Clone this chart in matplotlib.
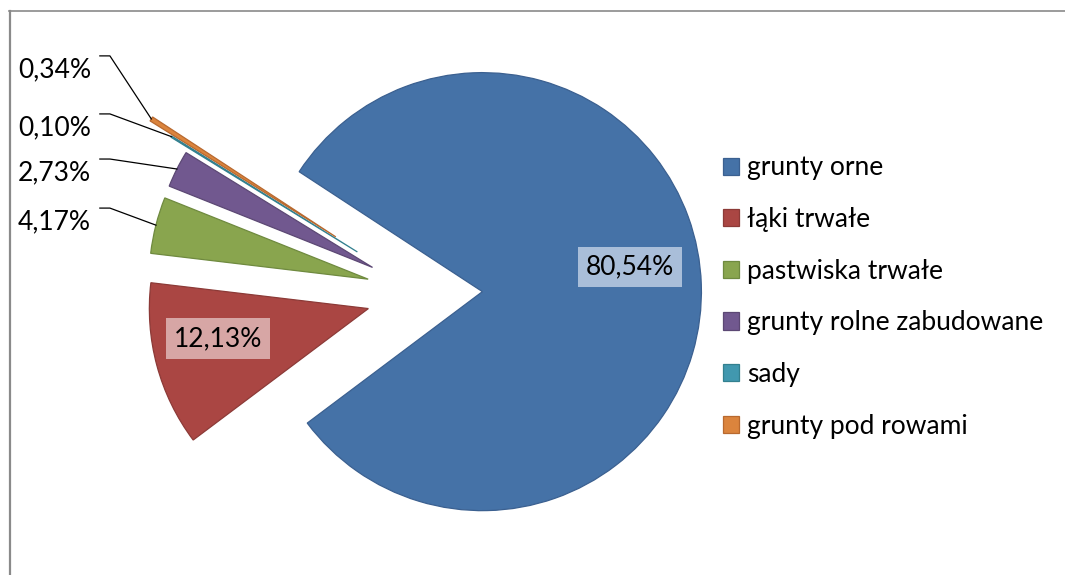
import numpy as np
import matplotlib.pyplot as plt
from matplotlib.lines import Line2D

# udział użytków rolnych
categories = ['grunty orne', 'łąki trwałe', 'pastwiska trwałe',
              'grunty rolne zabudowane', 'sady', 'grunty pod rowami']
shares = [80.54, 12.13, 4.17, 2.73, 0.10, 0.34]

colors = ['#4572A7', '#AA4643', '#89A54E', '#71588F', '#4198AF', '#DB843D']
edge_colors = ['#3B6090', '#8C3A37', '#6F8A3F', '#5C4874', '#33808F', '#B8692F']
explode = [0.265, 0.265, 0.265, 0.265, 0.36, 0.48]

plt.rcParams['font.family'] = ['Lato', 'DejaVu Sans']
FS = 19

fig = plt.figure(figsize=(10.65, 5.75), dpi=100)
ax = fig.add_axes([0, 0, 1, 1])

wedges, _ = ax.pie(shares, explode=explode, colors=colors, startangle=146.8,
                   counterclock=False, radius=1.0,
                   wedgeprops=dict(linewidth=0.9))
for w, ec in zip(wedges, edge_colors):
    w.set_edgecolor(ec)

# 1 data unit = 219 px, pie centre at (424.4, 293.5) px
scale = 219.0
cx, cy = 424.4, 293.5
ax.set_xlim(-cx / scale, (1065 - cx) / scale)
ax.set_ylim(-(575 - cy) / scale, cy / scale)
ax.set_aspect('equal')
ax.axis('off')

def fmt(v):
    return f"{v:.2f}%".replace('.', ',')

# labels inside the two big slices
inside = {0: ((0.939, 0.121), '#A9BED9'), 1: ((-0.942, -0.206), '#D7A6A5')}
for i, ((x, y), bc) in inside.items():
    ax.text(x, y, fmt(shares[i]), ha='center', va='center', fontsize=FS,
            color='black',
            bbox=dict(boxstyle='square,pad=0.3', facecolor=bc, edgecolor='none'))

# outside labels with leader lines (small slices)
outside_y = {2: 0.326, 3: 0.550, 4: 0.756, 5: 1.021}
for i, ty in outside_y.items():
    w = wedges[i]
    tm = np.deg2rad((w.theta1 + w.theta2) / 2)
    px = w.center[0] + w.r * np.cos(tm)
    py = w.center[1] + w.r * np.sin(tm)
    ax.text(-1.522, ty, fmt(shares[i]), ha='right', va='center', fontsize=FS)
    ly = ty + 0.064
    ax.plot([-1.482, -1.436, px], [ly, ly, py], color='black', lw=0.9)

ax.legend(wedges, categories, loc='center left',
          bbox_to_anchor=(723 / 1065, 1 - 297 / 575), bbox_transform=fig.transFigure,
          frameon=False, fontsize=FS, borderpad=0, borderaxespad=0,
          handlelength=0.62, handleheight=0.62, handletextpad=0.3,
          labelspacing=1.01)

# chart area border (cropped)
fig.add_artist(Line2D([9 / 1065, 1], [1 - 11 / 575, 1 - 11 / 575],
                      transform=fig.transFigure, color='#8A8A8A', lw=1.2))
fig.add_artist(Line2D([10 / 1065, 10 / 1065], [0, 1 - 11 / 575],
                      transform=fig.transFigure, color='#8A8A8A', lw=1.6))

fig.savefig('out.png', dpi=100)
